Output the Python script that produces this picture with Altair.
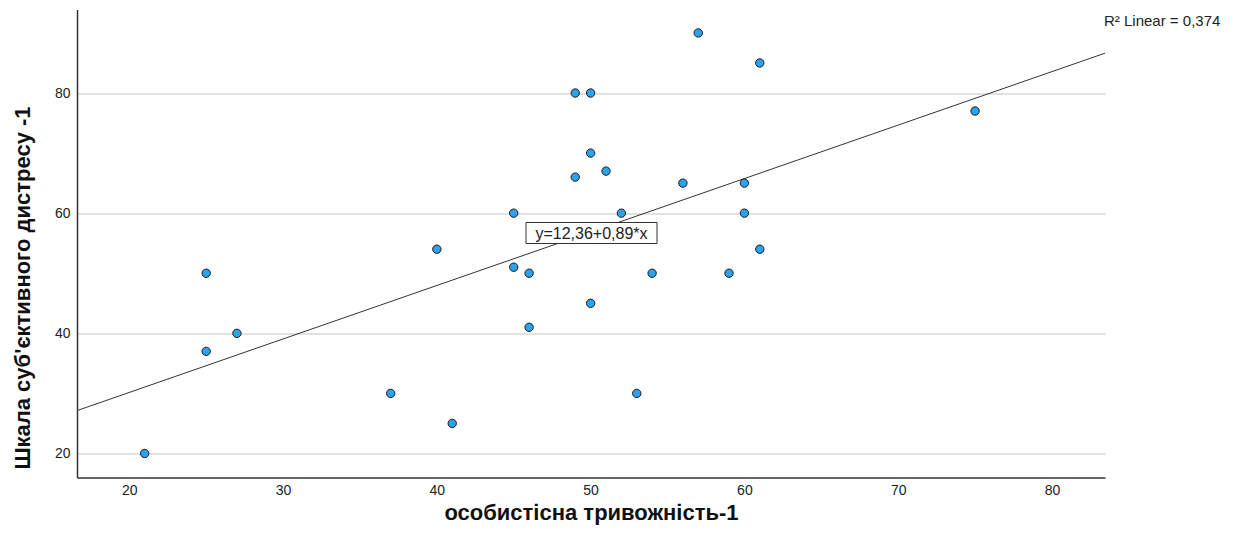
import altair as alt
import pandas as pd
import numpy as np

# ---- data ----
anxiety = [21, 25, 25, 27, 37, 40, 41, 45, 45, 46, 46, 49, 50, 49, 50, 51, 50,
           52, 53, 54, 56, 57, 59, 60, 60, 61, 61, 75]
distress = [20, 50, 37, 40, 30, 54, 25, 60, 51, 50, 41, 80, 80, 66, 70, 67, 45,
            60, 30, 50, 65, 90, 50, 65, 60, 85, 54, 77]
intercept, slope = 12.36, 0.89
x_ticks = [20, 30, 40, 50, 60, 70, 80]
y_ticks = [20, 40, 60, 80]
eq_label = "y=12,36+0,89*x"
r2_label = "R² Linear = 0,374"
x_title = "особистісна тривожність-1"
y_title = "Шкала суб'єктивного дистресу -1"

XDOM = [16.6, 83.45]
YDOM = [16.0, 93.9]
W, H = 1028, 468
FONT = "Liberation Sans"

df = pd.DataFrame({"x": anxiety, "y": distress})
lx = np.array(XDOM)
line_df = pd.DataFrame({"x": lx, "y": intercept + slope * lx})

xenc = alt.X(
    "x:Q",
    scale=alt.Scale(domain=XDOM, nice=False, zero=False),
    axis=alt.Axis(
        values=x_ticks, grid=False, ticks=False, domain=True,
        domainColor="#333333", domainWidth=1.5,
        labelFont=FONT, labelFontSize=14, labelColor="#222222", labelPadding=6,
        title=x_title, titleFont=FONT, titleFontSize=22, titleFontWeight="bold",
        titleColor="#111111", titleY=42, titleBaseline="alphabetic",
    ),
)
yenc = alt.Y(
    "y:Q",
    scale=alt.Scale(domain=YDOM, nice=False, zero=False),
    axis=alt.Axis(
        values=y_ticks, grid=True, gridColor="#c4c4c4", gridWidth=1,
        ticks=False, domain=True, domainColor="#333333", domainWidth=1.5,
        labelFont=FONT, labelFontSize=14, labelColor="#222222", labelPadding=7,
        title=y_title, titleFont=FONT, titleFontSize=22, titleFontWeight="bold",
        titleColor="#111111", titleX=-55, titleY=278, titleAlign="center",
        titleBaseline="middle",
    ),
)

line = alt.Chart(line_df).mark_line(color="#333333", strokeWidth=1, clip=True).encode(
    x=xenc, y=yenc
)

points = alt.Chart(df).mark_circle(
    size=70, color="#2ba3ee", stroke="#1a1a1a", strokeWidth=1, opacity=1
).encode(x=xenc, y=yenc)

eq_df = pd.DataFrame({"t": [eq_label]})
eq_box = alt.Chart(eq_df).mark_rect(
    fill="white", stroke="#333333", strokeWidth=1
).encode(x=alt.value(449), x2=alt.value(580), y=alt.value(213), y2=alt.value(234))
eq_text = alt.Chart(eq_df).mark_text(
    font=FONT, fontSize=16, color="#222222", align="center", baseline="middle"
).encode(x=alt.value(514.5), y=alt.value(224), text="t:N")

r2_df = pd.DataFrame({"t": [r2_label]})
r2_text = alt.Chart(r2_df).mark_text(
    font=FONT, fontSize=15, color="#222222", align="left", baseline="middle"
).encode(x=alt.value(1027), y=alt.value(11), text="t:N")

chart = alt.layer(line, points, eq_box, eq_text, r2_text).properties(
    width=W, height=H,
    autosize=alt.AutoSizeParams(type="none"),
    padding={"left": 69, "top": 1.5, "right": 132, "bottom": 47.5},
    background="white",
).configure_view(stroke=None)

chart.save("out.html", embed_options={"renderer": "svg", "actions": False})
